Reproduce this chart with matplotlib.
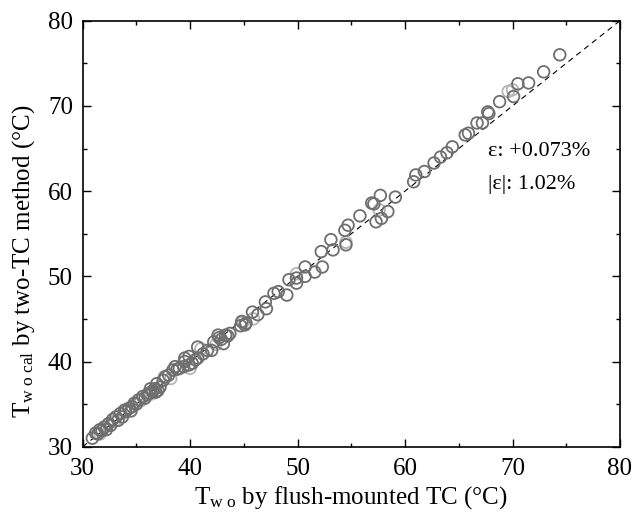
import matplotlib
matplotlib.use("Agg")
import matplotlib.pyplot as plt
from matplotlib.ticker import MultipleLocator

plt.rcParams['font.family'] = ['Liberation Serif', 'DejaVu Serif']
plt.rcParams['mathtext.fontset'] = 'custom'
plt.rcParams['mathtext.rm'] = 'Liberation Serif'
plt.rcParams['mathtext.it'] = 'Liberation Serif:italic'

# dark-edged points (flush-mounted TC, two-TC method)
x_dark = [74.4, 72.9, 71.5, 70.5, 70.1, 68.8, 67.7, 67.8, 67.2, 66.7, 65.9, 65.6,
          64.4, 63.9, 63.3, 62.7, 61.8, 61.0, 60.8, 59.1, 57.7, 56.9, 57.1, 58.4,
          57.8, 57.3, 55.8, 54.7, 54.4, 54.5, 53.1, 53.3, 52.2, 52.3, 51.6, 50.7,
          50.7, 49.9, 49.9, 49.2, 49.0, 48.2, 47.8, 47.0, 47.1, 46.3, 45.8, 45.2,
          44.8, 44.7, 45.1,
          43.7, 43.3, 43.1, 42.7, 42.6, 42.2, 42.0, 41.2, 40.7, 40.7, 40.5, 39.9,
          39.5, 39.5, 39.9, 39.4, 39.0, 38.6, 38.4, 38.0, 37.7, 37.5, 36.9, 36.7,
          36.5, 36.3, 36.0, 35.6, 35.2, 34.8, 34.6, 34.3, 33.9, 33.5, 33.1, 32.8,
          32.4, 32.0, 31.6, 31.2, 30.9, 31.4, 32.2, 33.3, 34.0, 35.0, 35.8, 36.8,
          37.2, 38.8, 40.2, 41.6, 42.9, 43.5, 34.5, 33.7, 32.6, 31.8, 36.2, 37.0]
y_dark = [76.0, 74.0, 72.7, 72.6, 71.1, 70.5, 69.3, 69.1, 68.0, 68.0, 66.8, 66.6,
          65.2, 64.5, 64.0, 63.3, 62.3, 61.9, 61.1, 59.3, 59.5, 58.6, 58.5, 57.6,
          56.8, 56.4, 57.1, 56.0, 55.4, 53.7, 54.3, 53.1, 52.9, 51.1, 50.5, 51.1,
          50.0, 49.8, 49.2, 49.6, 47.8, 48.2, 48.0, 47.0, 46.2, 45.5, 45.8, 44.5,
          44.7, 44.2, 44.3,
          43.3, 43.1, 42.1, 42.8, 43.1, 42.3, 41.3, 40.9, 41.7, 40.4, 40.2, 40.6,
          40.4, 40.0, 39.6, 39.4, 39.2, 39.4, 39.0, 38.4, 38.2, 37.8, 37.4, 36.8,
          36.5, 36.8, 36.1, 35.9, 35.5, 35.1, 34.7, 34.5, 34.3, 33.9, 33.5, 33.2,
          32.7, 32.3, 32.0, 31.6, 31.0, 31.5, 32.0, 33.1, 34.1, 35.0, 35.7, 36.4,
          37.0, 39.1, 39.8, 41.3, 42.6, 43.0, 34.2, 33.5, 32.5, 31.9, 36.3, 36.6]

# light-edged points
x_light = [70.0, 69.6, 57.6, 54.5, 49.9, 45.9, 41.0, 38.2, 37.6, 36.4, 35.4,
           33.0, 31.6, 42.4, 40.0, 44.9]
y_light = [71.9, 71.7, 57.8, 54.0, 50.3, 45.0, 41.5, 38.0, 38.2, 36.2, 35.4,
           33.0, 31.5, 42.0, 39.2, 44.6]

diag = [30, 80]

fig = plt.figure(figsize=(6.33, 5.18), dpi=100)
ax = fig.add_axes([0.1306, 0.1376, 0.8488, 0.8224])

ax.plot(diag, diag, color='black', lw=0.8, ls=(0, (5, 4)), zorder=1)
ax.scatter(x_light, y_light, s=70, facecolors='none', edgecolors='#b5b5b5',
           linewidths=1.3, zorder=2)
ax.scatter(x_dark, y_dark, s=70, facecolors='none', edgecolors='#6e6e6e',
           linewidths=1.3, zorder=3)

ax.set_xlim(30, 80)
ax.set_ylim(30, 80)
ax.xaxis.set_major_locator(MultipleLocator(10))
ax.xaxis.set_minor_locator(MultipleLocator(5))
ax.yaxis.set_major_locator(MultipleLocator(10))
ax.yaxis.set_minor_locator(MultipleLocator(5))
ax.tick_params(which='both', direction='in', top=True, right=True,
               labelsize=18, width=1.0)
ax.tick_params(which='major', length=6)
ax.tick_params(which='minor', length=3)
ax.tick_params(axis='x', pad=8)
ax.tick_params(axis='y', pad=7)
for sp in ax.spines.values():
    sp.set_linewidth(1.2)

ax.set_xlabel(r'T$_{\mathrm{w\ o}}$ by flush-mounted TC (°C)', fontsize=18)
ax.set_ylabel(r'T$_{\mathrm{w\ o\ cal}}$ by two-TC method (°C)', fontsize=18)
ax.xaxis.set_label_coords(0.5, -0.088)
ax.yaxis.set_label_coords(-0.085, 0.436)

ax.text(67.7, 64.6, 'ε: +0.073%', fontsize=16, va='center', ha='left')
ax.text(67.7, 60.8, '|ε|: 1.02%', fontsize=16, va='center', ha='left')

fig.savefig('out.png', dpi=100)
